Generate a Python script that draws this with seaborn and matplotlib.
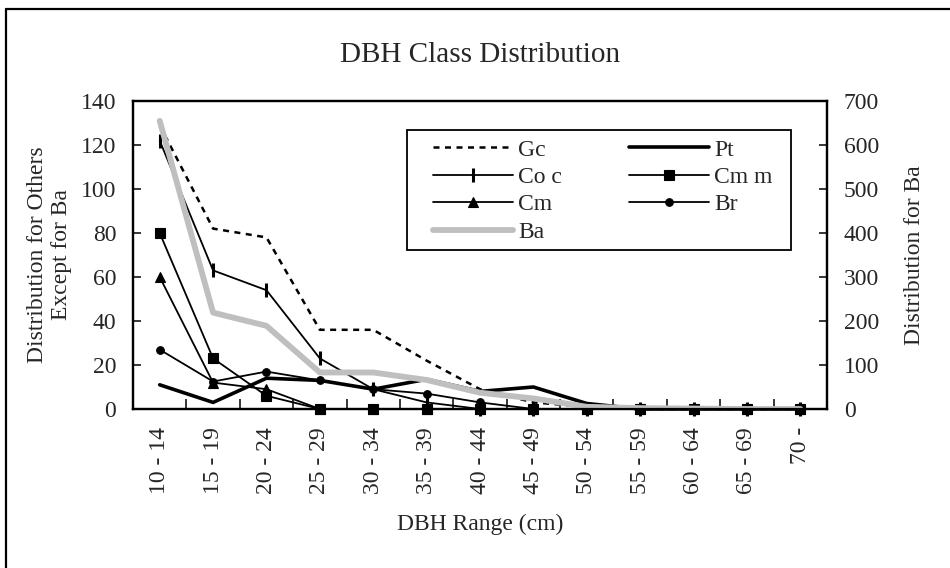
import numpy as np
import pandas as pd
import matplotlib
matplotlib.use("Agg")
import matplotlib.pyplot as plt
from matplotlib.lines import Line2D
from matplotlib.patches import Rectangle
import seaborn as sns

# DBH classes and tree counts per species
categories = ["10 - 14", "15 - 19", "20 - 24", "25 - 29", "30 - 34", "35 - 39",
              "40 - 44", "45 - 49", "50 - 54", "55 - 59", "60 - 64", "65 - 69", "70 -"]
gc = [129, 82, 78, 36, 36, 22, 9, 3, 1, 0, 0, 0, 0]
pt = [11, 3, 14, 13, 9, 13.5, 8, 10, 2.5, 0, 0, 0, 0]
coc = [122, 63, 54, 23, 9, 3, 0, 0, 0, 0, 0, 0, 0]
cmm = [80, 23, 6, 0, 0, 0, 0, 0, 0, 0, 0, 0, 0]
cm = [60, 12, 9, 0, 0, 0, 0, 0, 0, 0, 0, 0, 0]
br = [27, 12.5, 17, 13, 9, 7, 3, 0, 0, 0, 0, 0, 0]
ba = [655, 219, 189, 83, 83, 66, 37, 24, 5, 2, 1, 0, 0]

left_ticks = list(range(0, 141, 20))
right_ticks = list(range(0, 701, 100))

sns.set_theme(style="white")
plt.rcParams["font.family"] = ["Liberation Serif", "DejaVu Serif"]
plt.rcParams["axes.linewidth"] = 1.6

FS = 17
pos = np.arange(len(categories))

fig = plt.figure(figsize=(9.5, 5.68), dpi=100)
ax = fig.add_axes([133 / 950, 1 - 409 / 568, (827 - 133) / 950, (409 - 101) / 568])
ax2 = ax.twinx()

series = [
    ("Gc", gc, dict(color="black", lw=1.8, ls=(0, (2.4, 2.2)))),
    ("Pt", pt, dict(color="black", lw=2.6)),
    ("Co c", coc, dict(color="black", lw=1.3, marker="|", ms=10, mew=2.2, mec="black")),
    ("Cm m", cmm, dict(color="black", lw=1.3, marker="s", ms=7, mew=0.8, mec="black")),
    ("Cm", cm, dict(color="black", lw=1.3, marker="^", ms=7, mew=0.8, mec="black")),
    ("Br", br, dict(color="black", lw=1.3, marker="o", ms=5.5, mew=0.8, mec="black")),
]

handles = {}
for name, vals, style in series:
    df = pd.DataFrame({"pos": pos, "count": vals})
    sns.lineplot(data=df, x="pos", y="count", ax=ax, clip_on=False,
                 legend=False, **style)
    handles[name] = Line2D([], [], **style)

ba_style = dict(color="#bfbfbf", lw=4.2)
df_ba = pd.DataFrame({"pos": pos, "count": ba})
sns.lineplot(data=df_ba, x="pos", y="count", ax=ax2, legend=False, **ba_style)
handles["Ba"] = Line2D([], [], **ba_style)

# axes ranges and ticks
ax.set_xlim(-0.5, len(categories) - 0.5)
ax.set_ylim(0, 140)
ax2.set_ylim(0, 700)
ax.set_yticks(left_ticks)
ax2.set_yticks(right_ticks)
ax.set_xticks(pos)
ax.set_xticklabels(categories, rotation=90, fontsize=FS)
ax.set_xticks(pos[:-1] + 0.5, minor=True)
ax.tick_params(axis="x", which="major", length=0, pad=13)
ax.tick_params(axis="x", which="minor", direction="in", length=7, width=1.3,
               bottom=True)
ax.tick_params(axis="y", direction="in", length=6, width=1.3, labelsize=FS,
               left=True, pad=12)
ax2.tick_params(axis="y", direction="in", length=6, width=1.3, labelsize=FS,
                right=True, pad=12)
for a in (ax, ax2):
    for sp in a.spines.values():
        sp.set_color("black")
        sp.set_linewidth(1.6)
ax.grid(False)
ax2.grid(False)

ax.set_xlabel("DBH Range (cm)", fontsize=FS, labelpad=14)
ax.set_ylabel("Distribution for Others\nExcept for Ba", fontsize=FS,
              labelpad=6, linespacing=1.2)
ax2.set_ylabel("Distribution for Ba", fontsize=FS, labelpad=18)
fig.text(480 / 950, 1 - 55 / 568, "DBH Class Distribution", fontsize=21,
         ha="center", va="center")

# legend box drawn as its own frame, entries laid out inside it
ax2.add_patch(Rectangle((407 / 950, 1 - 250 / 568), 384 / 950, 120 / 568,
                        transform=fig.transFigure, facecolor="white",
                        edgecolor="black", lw=1.3, zorder=4, clip_on=False))
order = ["Gc", "Co c", "Cm", "Ba", "Pt", "Cm m", "Br"]
leg = ax2.legend([handles[k] for k in order], order, ncol=2, fontsize=FS,
                 loc="upper left", borderaxespad=0, borderpad=0,
                 bbox_to_anchor=(433 / 950, 1 - 139 / 568),
                 bbox_transform=fig.transFigure, frameon=False,
                 handlelength=3.4, handletextpad=0.2, labelspacing=0.25,
                 columnspacing=2.85)
leg.set_zorder(5)

# outer chart border (left and top edges fall inside the canvas)
fig.add_artist(Line2D([6 / 950, 1.0], [1 - 9 / 568, 1 - 9 / 568],
                      transform=fig.transFigure, color="black", lw=1.6))
fig.add_artist(Line2D([6 / 950, 6 / 950], [0.0, 1 - 9 / 568],
                      transform=fig.transFigure, color="black", lw=1.6))

fig.savefig("out.png", dpi=100)
